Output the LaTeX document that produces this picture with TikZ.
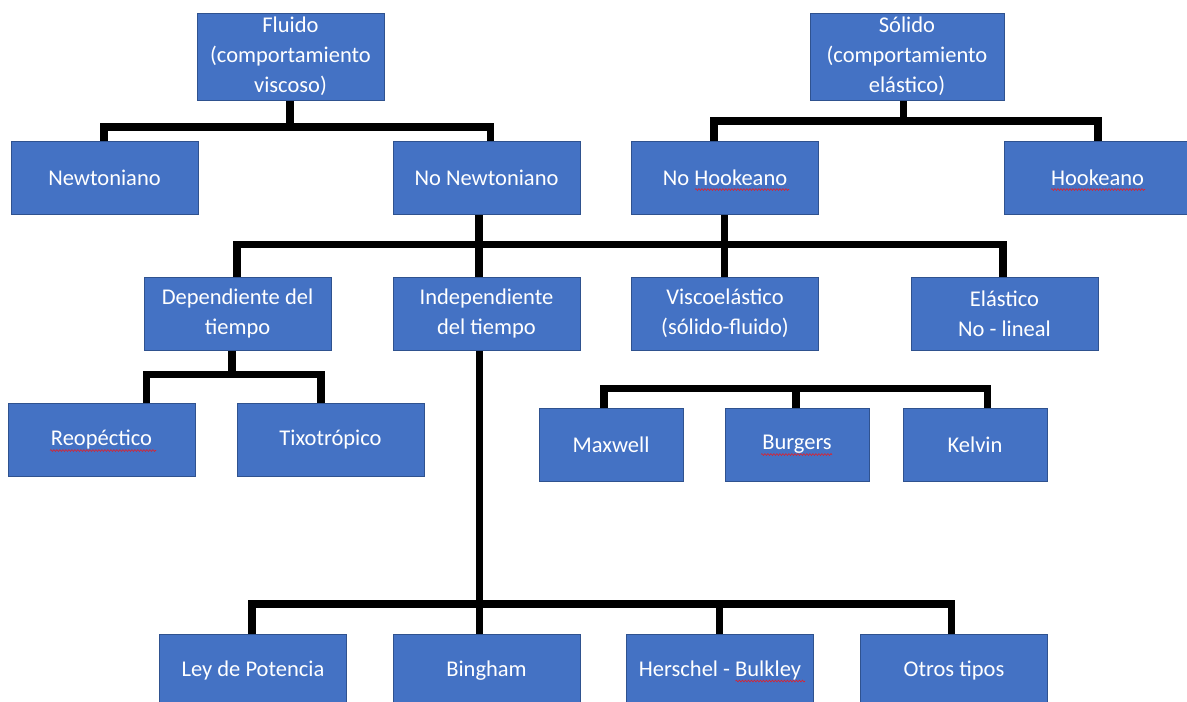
\documentclass[tikz,border=0pt]{standalone}
\usepackage{fontspec}
\setmainfont{Carlito}
\usetikzlibrary{backgrounds,calc,decorations.pathmorphing}

\definecolor{boxblue}{HTML}{4472C4}
\definecolor{boxedge}{HTML}{2F528F}
\definecolor{squigred}{HTML}{E0202A}

\tikzset{
  box/.style={draw=boxedge, fill=boxblue, text=white, line width=0.8pt,
    align=center, inner sep=0pt, outer sep=0pt,
    minimum width=187pt, minimum height=73pt,
    font=\fontsize{22.5}{30}\selectfont},
  smallbox/.style={box, minimum width=144pt},
  conn/.style={draw=black, line width=7.5pt, line join=miter},
  squig/.style={draw=squigred, line width=0.6pt,
    decorate, decoration={snake, segment length=3pt, amplitude=0.9pt}}
}

\begin{document}
\begin{tikzpicture}[x=1pt, y=-1pt]
  \useasboundingbox (0,0) rectangle (1187,702);

  % top level
  \node[box] (fluido) at (290.5,56.5) [minimum height=87pt] {Fluido\\(comportamiento\\viscoso)};
  \node[box] (solido) at (907,56.5) [minimum width=194pt, minimum height=87pt] {Sólido\\(comportamiento\\elástico)};

  % second level
  \node[box] (newt)   at (104.5,177.5) {Newtoniano};
  \node[box] (nonewt) at (486.5,177.5) {No Newtoniano};
  \node[box] (nohook) at (725,177.5)   {No Hookeano};
  \node[box] (hook)   at (1097.5,177.5) {Hookeano};

  % third level
  \node[box] (dep)   at (237.5,313.5)  {Dependiente del\\tiempo};
  \node[box] (indep) at (486.5,313.5)  {Independiente\\del tiempo};
  \node[box] (visco) at (725,313.5)    {Viscoelástico\\(sólido-fluido)};
  \node[box] (elast) at (1004.5,313.5) {Elástico\\No - lineal};

  % time dependent fluids
  \node[box] (reo)  at (101.5,439.5) {Reopéctico};
  \node[box] (tixo) at (330.5,439.5) {Tixotrópico};

  % viscoelastic models
  \node[smallbox] (maxwell) at (611,444.5) {Maxwell};
  \node[smallbox] (burgers) at (797,444.5) {Burgers};
  \node[smallbox] (kelvin)  at (975,444.5) {Kelvin};

  % time independent fluids
  \node[box] (ley)      at (253,670.5)   {Ley de Potencia};
  \node[box] (bingham)  at (486.5,670.5) {Bingham};
  \node[box] (herschel) at (720,670.5)   {Herschel - Bulkley};
  \node[box] (otros)    at (954,670.5)   {Otros tipos};

  % spell-check marks under some words
  \draw[squig] ($(nohook.center)+(-30,12)$) -- ++(94,0);
  \draw[squig] ($(hook.center)+(-46.5,12)$) -- ++(94,0);
  \draw[squig] ($(reo.center)+(-51.5,11)$) -- ++(106,0);
  \draw[squig] ($(burgers.center)+(-36,10)$) -- ++(71,0);
  \draw[squig] ($(herschel.center)+(15.5,10.5)$) -- ++(69.5,0);

  \begin{scope}[on background layer]
    \fill[white] (0,0) rectangle (1187,702);
    % fluid branch
    \draw[conn] (fluido.south -| 290,0) -- ++(0,27);
    \draw[conn] (newt.north -| 104,0) -- ++(0,-14) -| (nonewt.north -| 490.5,0);
    % solid branch
    \draw[conn] (solido.south -| 903.5,0) -- ++(0,21);
    \draw[conn] (nohook.north -| 714,0) -- ++(0,-20) -| (hook.north -| 1098,0);
    % shared bus below the second level
    \draw[conn] (dep.north -| 237,0) -- ++(0,-32.5) -| (elast.north -| 1003,0);
    \draw[conn] (nonewt.south -| 479,0) -- (indep.north -| 479,0);
    \draw[conn] (nohook.south -| 724.5,0) -- (visco.north -| 724.5,0);
    % time dependent
    \draw[conn] (dep.south -| 232,0) -- ++(0,24.5);
    \draw[conn] (reo.north -| 146.5,0) -- ++(0,-28.5) -| (tixo.north -| 321,0);
    % viscoelastic models
    \draw[conn] (maxwell.north -| 604,0) -- ++(0,-19.5) -| (kelvin.north -| 987.5,0);
    \draw[conn] (burgers.north -| 796,0) -- ++(0,-19.5);
    % time independent
    \draw[conn] (indep.south -| 479.5,0) -- (bingham.north -| 479.5,0);
    \draw[conn] (ley.north -| 252,0) -- ++(0,-30) -| (otros.north -| 951.5,0);
    \draw[conn] (herschel.north -| 719.5,0) -- ++(0,-30);
  \end{scope}
\end{tikzpicture}
\end{document}
